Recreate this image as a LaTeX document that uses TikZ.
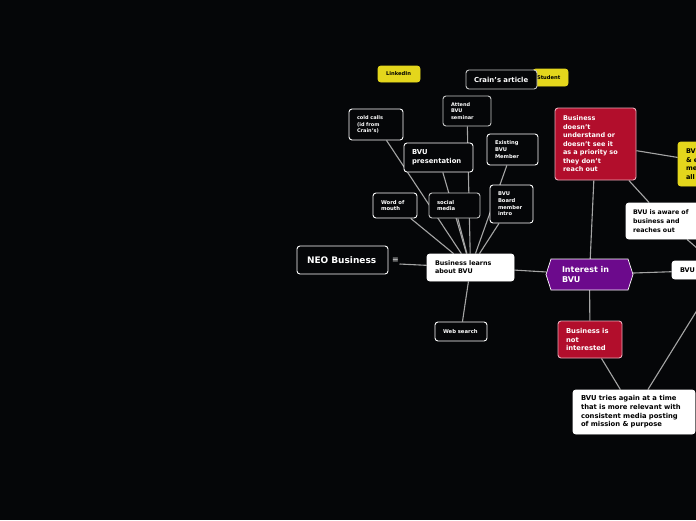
\documentclass[tikz,border=0pt]{standalone}
\usepackage{fontspec}
\setmainfont{DejaVu Sans}
\usetikzlibrary{backgrounds}
\definecolor{bg}{RGB}{5,6,8}
\definecolor{nyel}{RGB}{228,214,28}
\definecolor{nred}{RGB}{178,14,44}
\definecolor{npink}{RGB}{235,170,185}
\definecolor{npurple}{RGB}{108,10,140}
\definecolor{lgray}{RGB}{165,165,165}
\definecolor{bgray}{RGB}{200,200,200}
\newcommand{\fsz}[2]{\fontsize{#1}{#2}\selectfont}
\tikzset{
  base/.style={rounded corners=3pt, align=left, inner xsep=8pt, inner ysep=0pt, line width=0.9pt},
  dark/.style={base, fill=bg, draw=white, text=white},
  darkg/.style={base, fill=bg, draw=bgray, text=white},
  light/.style={base, fill=white, draw=white, text=black},
  redbox/.style={base, fill=nred, draw=npink, text=white},
  yelbox/.style={base, fill=nyel, draw=nyel, text=black},
  conn/.style={draw=lgray, line width=1.1pt},
}
\begin{document}
\begin{tikzpicture}[x=1pt,y=-1pt]
\useasboundingbox (0,0) rectangle (696,520);
\clip (0,0) rectangle (696,520);

% top small nodes
\node[yelbox, text width=26pt, minimum height=16pt, font=\bfseries\fsz{5.2}{6}] (linkedin) at (399,74) {LinkedIn};
\node[yelbox, inner xsep=4pt, text width=27pt, minimum height=17pt, font=\bfseries\fsz{5.2}{6}] (student) at (550.5,77.5) {Student};
\node[darkg, text width=55pt, minimum height=19pt, font=\bfseries\fsz{6.9}{8}] (crains) at (501.5,79.5) {Crain's article};

\node[dark, text width=38pt, minimum height=31pt, font=\bfseries\fsz{5}{6.5}] (cold) at (376,124.5) {cold calls\\(id from\\Crain's)};
\node[darkg, text width=32pt, minimum height=30pt, font=\bfseries\fsz{5}{6.5}] (attend) at (467,111) {Attend\\BVU\\seminar};
\node[dark, text width=53pt, minimum height=29pt, font=\bfseries\fsz{6.8}{9}] (pres) at (438.5,157.5) {BVU\\presentation};
\node[dark, text width=35pt, minimum height=31pt, font=\bfseries\fsz{5.2}{6.6}] (exist) at (512.5,149.5) {Existing\\BVU\\Member};
\node[dark, text width=28pt, minimum height=25pt, font=\bfseries\fsz{5.3}{6.2}] (wom) at (395,205.5) {Word of\\mouth};
\node[darkg, text width=35pt, minimum height=25pt, font=\bfseries\fsz{5.3}{6.8}] (social) at (454.5,205.5) {social\\media};
\node[dark, text width=27pt, minimum height=38pt, font=\bfseries\fsz{5.2}{6.6}] (board) at (511.5,204) {BVU\\Board\\member\\intro};

% central row
\node[dark, inner xsep=10pt, text width=71pt, minimum height=28pt, font=\bfseries\fsz{9}{10}] (neo) at (342.5,260) {NEO Business};
\node[text=white, inner sep=0pt, font=\fsz{8}{8}] (eq) at (395.5,260) {≡};
\coordinate (neotail) at (399.5,264);
\node[light, text width=71pt, minimum height=27pt, font=\bfseries\fsz{6.4}{8}] (bl) at (470.5,267.5) {Business learns\\about BVU};
\node[dark, text width=36pt, minimum height=19pt, font=\bfseries\fsz{5.3}{6}] (web) at (461,331.5) {Web search};

% Interest hexagon
\fill[npurple, draw=white, line width=0.7pt] (546,274.5) -- (551,259) -- (628,259) -- (633,274.5) -- (628,290) -- (551,290) -- cycle;
\node[text=white, align=left, inner xsep=16pt, inner ysep=0pt, text width=55pt, minimum height=31pt, font=\bfseries\fsz{8}{9.5}] (int) at (589.5,274.5) {Interest in\\BVU};

\node[light, text width=84pt, minimum height=18pt, font=\bfseries\fsz{6.5}{8}] (bvur) at (722,270) {BVU};

% right side
\node[redbox, text width=65pt, minimum height=72pt, font=\bfseries\fsz{6.5}{8.5}] (dnu) at (595.5,144) {Business\\doesn't\\understand or\\doesn't see it\\as a priority so\\they don't\\reach out};
\node[yelbox, text width=64pt, minimum height=44pt, font=\bfseries\fsz{6.5}{8.5}] (yel) at (718,164) {BV\\\& e\\me\\all};
\node[light, inner xsep=7pt, text width=66pt, minimum height=36pt, font=\bfseries\fsz{6.3}{8.8}] (aware) at (666,221) {BVU is aware of\\business and\\reaches out};
\node[redbox, text width=48pt, minimum height=37pt, font=\bfseries\fsz{6.8}{8.4}] (notint) at (590,339.5) {Business is\\not\\interested};
\node[light, text width=106pt, minimum height=44pt, font=\bfseries\fsz{6.8}{8.7}] (tries) at (634,412) {BVU tries again at a time\\that is more relevant with\\consistent media posting\\of mission \& purpose};

\begin{pgfonlayer}{background}
  \fill[bg] (0,0) rectangle (696,520);
  \draw[conn] (bl) -- (cold);
  \draw[conn] (bl) -- (wom);
  \draw[conn] (bl) -- (social);
  \draw[conn] (bl) -- (pres);
  \draw[conn] (bl) -- (attend);
  \draw[conn] (bl) -- (exist);
  \draw[conn] (bl) -- (board);
  \draw[conn] (neotail) -- (bl);
  \draw[conn] (bl) -- (web);
  \draw[conn] (bl) -- (int);
  \draw[conn] (int) -- (dnu);
  \draw[conn] (int) -- (notint);
  \draw[conn] (int) -- (bvur);
  \draw[conn] (dnu) -- (yel);
  \draw[conn] (dnu) -- (aware);
  \draw[conn] (bvur) -- (aware);
  \draw[conn] (bvur) -- (tries);
  \draw[conn] (notint) -- (tries);
\end{pgfonlayer}
\end{tikzpicture}
\end{document}
